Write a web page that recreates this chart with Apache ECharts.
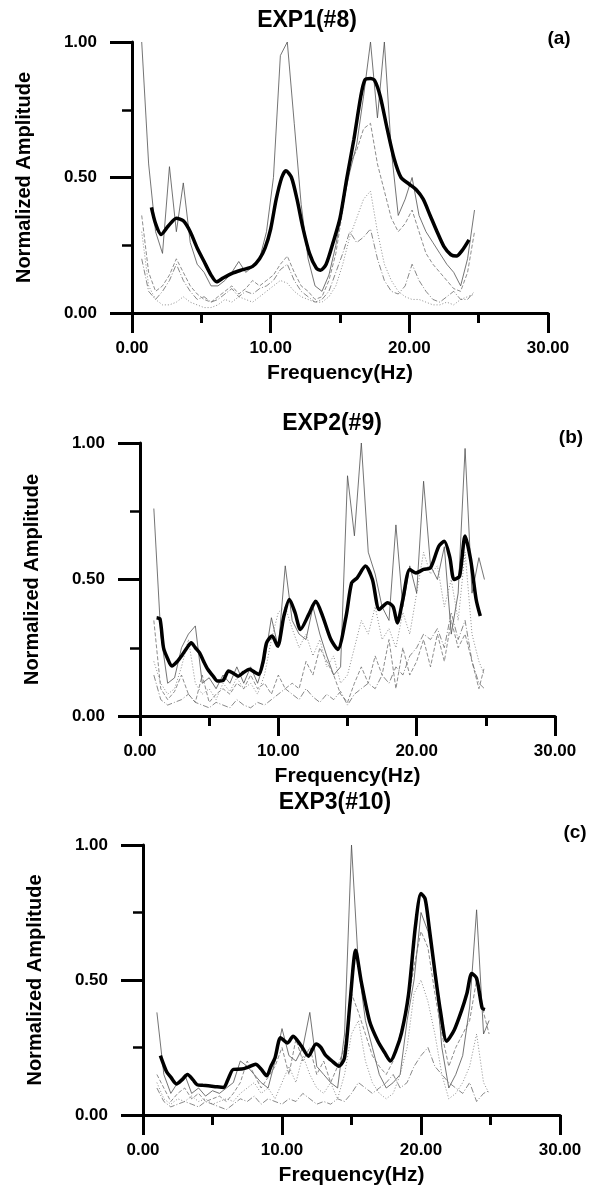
<!DOCTYPE html>
<html>
<head>
<meta charset="utf-8">
<script src="https://cdn.jsdelivr.net/npm/echarts@6/dist/echarts.min.js"></script>
<style>
html,body{margin:0;padding:0;background:#fff;}
#c{width:594px;height:1191px;}
</style>
</head>
<body>
<div id="c"></div>
<script>
// ---------- tick labels ----------
var xTicks = [0, 10, 20, 30];
var yTicks = [0, 0.5, 1.0];
var panelTitles = ['EXP1(#8)', 'EXP2(#9)', 'EXP3(#10)'];
var panelTags = ['(a)', '(b)', '(c)'];

// ---------- Panel A ----------
var freqA_avg = [1.4,1.7,2.1,2.6,3.2,3.7,4.2,4.7,5.2,5.7,6.1,6.6,7.3,8.0,8.7,9.2,9.6,10.0,10.4,10.8,11.1,11.5,11.9,12.3,12.8,13.3,13.6,14.0,14.5,15.0,15.5,16.0,16.5,16.8,17.2,17.5,17.9,18.4,18.9,19.4,20.0,20.5,21.0,21.5,22.0,22.5,23.0,23.4,23.8,24.3];
var avgA = [0.39,0.33,0.29,0.32,0.35,0.34,0.30,0.24,0.19,0.14,0.115,0.13,0.148,0.16,0.172,0.20,0.24,0.31,0.42,0.50,0.525,0.50,0.42,0.32,0.22,0.165,0.158,0.18,0.26,0.35,0.50,0.64,0.80,0.86,0.865,0.858,0.80,0.68,0.57,0.50,0.475,0.455,0.42,0.36,0.30,0.245,0.215,0.21,0.23,0.27];
var freqA = [0.7,1.2,1.7,2.2,2.7,3.2,3.7,4.2,4.7,5.2,5.7,6.2,6.7,7.2,7.7,8.2,8.7,9.2,9.7,10.2,10.7,11.2,11.7,12.2,12.7,13.2,13.7,14.2,14.7,15.2,15.7,16.2,16.7,17.2,17.7,18.2,18.7,19.2,19.7,20.2,20.7,21.2,21.7,22.2,22.7,23.2,23.7,24.2,24.7];
var a1 = [1.0,0.55,0.30,0.22,0.54,0.30,0.48,0.26,0.18,0.15,0.10,0.10,0.12,0.15,0.19,0.15,0.17,0.20,0.30,0.50,0.95,1.00,0.70,0.40,0.20,0.10,0.08,0.14,0.25,0.40,0.52,0.62,0.80,1.00,0.72,1.00,0.60,0.36,0.42,0.50,0.36,0.30,0.26,0.22,0.18,0.15,0.10,0.20,0.38];
var a2 = [0.36,0.15,0.08,0.10,0.14,0.20,0.15,0.10,0.07,0.05,0.04,0.06,0.08,0.10,0.07,0.09,0.12,0.10,0.12,0.14,0.18,0.21,0.15,0.10,0.08,0.05,0.06,0.12,0.22,0.38,0.55,0.60,0.68,0.70,0.55,0.45,0.35,0.30,0.33,0.38,0.30,0.22,0.18,0.15,0.12,0.09,0.08,0.15,0.30];
var a3 = [0.30,0.10,0.05,0.03,0.03,0.04,0.06,0.04,0.03,0.02,0.02,0.03,0.05,0.04,0.06,0.05,0.04,0.06,0.08,0.10,0.12,0.11,0.08,0.06,0.05,0.04,0.04,0.06,0.10,0.18,0.28,0.35,0.42,0.45,0.30,0.18,0.12,0.08,0.06,0.05,0.05,0.04,0.03,0.03,0.04,0.03,0.05,0.06,0.07];
var a4 = [0.20,0.08,0.05,0.08,0.12,0.18,0.12,0.08,0.05,0.06,0.04,0.05,0.07,0.09,0.06,0.08,0.07,0.09,0.10,0.12,0.16,0.18,0.12,0.08,0.06,0.04,0.05,0.08,0.15,0.22,0.30,0.26,0.28,0.31,0.20,0.12,0.08,0.07,0.10,0.18,0.12,0.08,0.05,0.04,0.06,0.08,0.05,0.05,0.08];

// ---------- Panel B ----------
var freqB_avg = [1.2,1.45,1.7,2.0,2.3,2.7,3.0,3.4,3.7,4.0,4.3,4.6,4.9,5.3,5.6,6.0,6.4,6.8,7.1,7.5,7.9,8.3,8.6,8.9,9.15,9.55,9.95,10.4,10.8,11.2,11.6,12.2,12.7,13.2,13.8,14.3,14.9,15.3,15.7,16.3,16.8,17.3,17.9,18.3,18.6,19.0,19.5,19.95,20.5,21.0,21.6,22.0,22.4,22.7,23.1,23.5,23.9,24.3,24.6];
var avgB = [0.36,0.355,0.25,0.21,0.183,0.20,0.22,0.25,0.268,0.25,0.232,0.20,0.171,0.145,0.128,0.13,0.165,0.155,0.146,0.16,0.171,0.16,0.152,0.20,0.268,0.293,0.256,0.366,0.427,0.38,0.317,0.372,0.42,0.366,0.28,0.244,0.366,0.488,0.506,0.549,0.50,0.39,0.415,0.40,0.341,0.427,0.537,0.524,0.537,0.543,0.622,0.64,0.58,0.50,0.512,0.659,0.573,0.427,0.366];
var freqB = [1.0,1.5,2.0,2.5,3.0,3.5,4.0,4.5,5.0,5.5,6.0,6.5,7.0,7.5,8.0,8.5,9.0,9.5,10.0,10.5,11.0,11.5,12.0,12.5,13.0,13.5,14.0,14.5,15.0,15.5,16.0,16.5,17.0,17.5,18.0,18.5,19.0,19.5,20.0,20.5,21.0,21.5,22.0,22.5,23.0,23.5,24.0,24.5,24.9];
var b1 = [0.76,0.30,0.12,0.14,0.25,0.30,0.33,0.12,0.14,0.10,0.15,0.12,0.18,0.12,0.18,0.12,0.20,0.36,0.25,0.55,0.35,0.30,0.28,0.40,0.30,0.22,0.15,0.18,0.88,0.66,1.00,0.60,0.52,0.40,0.35,0.70,0.40,0.55,0.45,0.86,0.55,0.50,0.62,0.30,0.45,0.98,0.45,0.58,0.50];
var b2 = [0.35,0.10,0.06,0.09,0.15,0.08,0.05,0.15,0.05,0.08,0.10,0.08,0.12,0.10,0.15,0.10,0.12,0.08,0.15,0.10,0.12,0.10,0.20,0.15,0.25,0.20,0.15,0.08,0.05,0.12,0.18,0.12,0.22,0.15,0.28,0.10,0.25,0.15,0.20,0.28,0.18,0.30,0.20,0.35,0.25,0.30,0.20,0.10,0.18];
var b3 = [0.20,0.12,0.08,0.10,0.18,0.28,0.12,0.08,0.10,0.06,0.12,0.09,0.14,0.10,0.12,0.08,0.15,0.28,0.38,0.40,0.32,0.25,0.30,0.22,0.28,0.18,0.22,0.12,0.15,0.25,0.35,0.30,0.40,0.28,0.32,0.25,0.38,0.30,0.45,0.60,0.52,0.55,0.40,0.50,0.35,0.60,0.30,0.20,0.15];
var b4 = [0.15,0.06,0.04,0.05,0.06,0.08,0.05,0.04,0.03,0.05,0.04,0.03,0.06,0.04,0.03,0.05,0.04,0.06,0.08,0.10,0.08,0.06,0.10,0.07,0.05,0.08,0.06,0.09,0.04,0.08,0.10,0.12,0.10,0.15,0.12,0.18,0.15,0.22,0.25,0.30,0.28,0.32,0.25,0.38,0.28,0.35,0.20,0.12,0.10];

// ---------- Panel C ----------
var freqC_avg = [1.25,1.7,2.0,2.4,2.8,3.2,3.6,3.9,4.3,4.7,5.2,5.8,6.1,6.5,7.1,7.6,8.1,8.5,8.9,9.2,9.5,9.9,10.4,10.8,11.4,11.9,12.45,12.8,13.1,13.6,14.1,14.5,14.9,15.3,15.7,16.3,16.9,17.4,17.8,18.2,18.6,19.1,19.6,20.0,20.3,20.6,21.0,21.4,21.85,22.4,22.9,23.3,23.65,24.0,24.4,24.6];
var avgC = [0.22,0.16,0.14,0.115,0.13,0.15,0.13,0.112,0.11,0.108,0.105,0.102,0.13,0.169,0.17,0.178,0.188,0.17,0.145,0.18,0.212,0.286,0.267,0.292,0.255,0.218,0.263,0.25,0.224,0.20,0.181,0.212,0.42,0.61,0.494,0.347,0.273,0.23,0.20,0.24,0.304,0.445,0.70,0.82,0.80,0.69,0.53,0.384,0.273,0.316,0.384,0.45,0.524,0.506,0.396,0.39];
var freqC = [1.0,1.5,2.0,2.5,3.0,3.5,4.0,4.5,5.0,5.5,6.0,6.5,7.0,7.5,8.0,8.5,9.0,9.5,10.0,10.5,11.0,11.5,12.0,12.5,13.0,13.5,14.0,14.5,15.0,15.5,16.0,16.5,17.0,17.5,18.0,18.5,19.0,19.5,20.0,20.5,21.0,21.5,22.0,22.5,23.0,23.5,24.0,24.5,24.9];
var c1 = [0.38,0.15,0.08,0.12,0.15,0.08,0.10,0.07,0.09,0.08,0.10,0.12,0.20,0.18,0.15,0.12,0.10,0.20,0.32,0.22,0.20,0.25,0.38,0.18,0.15,0.12,0.10,0.30,1.00,0.55,0.35,0.25,0.15,0.10,0.12,0.15,0.35,0.50,0.75,0.68,0.55,0.25,0.10,0.15,0.22,0.40,0.76,0.30,0.35];
var c2 = [0.15,0.10,0.05,0.08,0.10,0.06,0.08,0.05,0.06,0.07,0.05,0.08,0.12,0.20,0.15,0.10,0.14,0.18,0.25,0.15,0.28,0.20,0.25,0.15,0.20,0.12,0.18,0.25,0.45,0.38,0.30,0.22,0.18,0.15,0.20,0.30,0.40,0.55,0.68,0.62,0.45,0.30,0.18,0.25,0.30,0.35,0.50,0.38,0.30];
var c3 = [0.12,0.06,0.04,0.06,0.05,0.07,0.05,0.06,0.04,0.05,0.06,0.05,0.08,0.10,0.12,0.08,0.10,0.06,0.12,0.18,0.12,0.22,0.15,0.10,0.08,0.12,0.06,0.15,0.30,0.35,0.20,0.12,0.08,0.06,0.08,0.15,0.25,0.45,0.50,0.42,0.30,0.15,0.06,0.08,0.12,0.18,0.30,0.12,0.08];
var c4 = [0.10,0.05,0.03,0.04,0.05,0.04,0.03,0.05,0.04,0.03,0.02,0.04,0.06,0.05,0.07,0.04,0.06,0.05,0.04,0.06,0.05,0.08,0.06,0.04,0.05,0.04,0.06,0.05,0.08,0.12,0.10,0.08,0.10,0.12,0.15,0.10,0.12,0.18,0.22,0.25,0.18,0.15,0.12,0.10,0.08,0.12,0.05,0.08,0.09];

// ---------- build ----------
function pairs(f, v) { return f.map(function (x, i) { return [x, v[i]]; }); }

var panels = [
  { avgF: freqA_avg, avg: avgA, f: freqA, thin: [a1, a2, a3, a4] },
  { avgF: freqB_avg, avg: avgB, f: freqB, thin: [b1, b2, b3, b4] },
  { avgF: freqC_avg, avg: avgC, f: freqC, thin: [c1, c2, c3, c4] }
];

var grids = [
  { left: 132, top: 42, width: 416, height: 271 },
  { left: 140, top: 443, width: 415, height: 273 },
  { left: 143, top: 845, width: 417, height: 270 }
];
var titlePos = [[302, 4], [327, 407], [330, 786]];
var tagPos = [[554, 24], [566, 423], [570, 818]];

var FONT = '"Liberation Sans", Arial, sans-serif';
var thinStyles = [
  { color: '#505050', type: 'solid', width: 0.8 },
  { color: '#707070', type: [4, 2], width: 0.8 },
  { color: '#808080', type: [1, 2], width: 0.9 },
  { color: '#6a6a6a', type: [6, 2, 1, 2], width: 0.8 }
];

var option = {
  animation: false,
  backgroundColor: '#fff',
  title: [], grid: [], xAxis: [], yAxis: [], series: []
};

panels.forEach(function (p, k) {
  var g = grids[k];
  option.grid.push({ left: g.left, top: g.top, width: g.width, height: g.height, containLabel: false });
  option.title.push({
    text: panelTitles[k], left: titlePos[k][0], top: titlePos[k][1], textAlign: 'center',
    textStyle: { fontFamily: FONT, fontSize: 23, fontWeight: 'bold', color: '#000' }
  });
  option.title.push({
    text: panelTags[k], left: tagPos[k][0], top: tagPos[k][1], textAlign: 'center',
    textStyle: { fontFamily: FONT, fontSize: 19, fontWeight: 'bold', color: '#000' }
  });
  option.xAxis.push({
    type: 'value', gridIndex: k, min: xTicks[0], max: xTicks[xTicks.length - 1], interval: xTicks[1] - xTicks[0],
    name: 'Frequency(Hz)', nameLocation: 'middle', nameGap: 50,
    nameTextStyle: { fontFamily: FONT, fontSize: 21, fontWeight: 'bold', color: '#000' },
    axisLine: { show: true, onZero: false, lineStyle: { color: '#000', width: 3 } },
    axisTick: { show: true, inside: false, length: 20, lineStyle: { color: '#000', width: 3 } },
    minorTick: { show: true, splitNumber: 2, length: 10, lineStyle: { color: '#000', width: 3 } },
    axisLabel: { margin: 27, fontFamily: FONT, fontSize: 17, fontWeight: 'bold', color: '#000',
      formatter: function (v) { return v.toFixed(2); } },
    splitLine: { show: false }
  });
  option.yAxis.push({
    type: 'value', gridIndex: k, min: yTicks[0], max: yTicks[yTicks.length - 1], interval: yTicks[1] - yTicks[0],
    name: 'Normalized Amplitude', nameLocation: 'middle', nameGap: 98,
    nameTextStyle: { fontFamily: FONT, fontSize: 20, fontWeight: 'bold', color: '#000' },
    axisLine: { show: true, onZero: false, lineStyle: { color: '#000', width: 3 } },
    axisTick: { show: true, inside: false, length: 22, lineStyle: { color: '#000', width: 3 } },
    minorTick: { show: true, splitNumber: 2, length: 10, lineStyle: { color: '#000', width: 2.5 } },
    axisLabel: { margin: 35, fontFamily: FONT, fontSize: 17, fontWeight: 'bold', color: '#000',
      formatter: function (v) { return v.toFixed(2); } },
    splitLine: { show: false }
  });
  p.thin.forEach(function (arr, j) {
    option.series.push({
      type: 'line', xAxisIndex: k, yAxisIndex: k, data: pairs(p.f, arr),
      symbol: 'none', lineStyle: thinStyles[j], z: 2
    });
  });
  option.series.push({
    type: 'line', xAxisIndex: k, yAxisIndex: k, data: pairs(p.avgF, p.avg),
    symbol: 'none', smooth: 0.25, lineStyle: { color: '#000', width: 3.5 }, z: 5
  });
});

var chart = echarts.init(document.getElementById('c'), null, { renderer: 'canvas' });
chart.setOption(option);
</script>
</body>
</html>
